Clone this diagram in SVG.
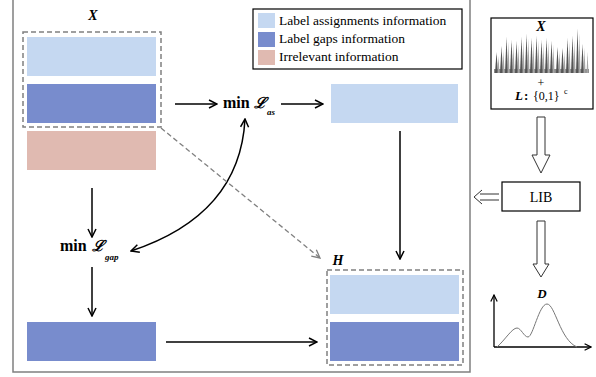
<svg xmlns="http://www.w3.org/2000/svg" width="596" height="377" viewBox="0 0 596 377">
<style>
.lb{fill:#C5D8F1}
.db{fill:#788CCD}
.pk{fill:#E0BAB1}
.dash{fill:none;stroke:#808080;stroke-width:1.5;stroke-dasharray:5,3}
.ln{fill:none;stroke:#000;stroke-width:1.5}
.t{font-family:"Liberation Serif",serif;fill:#000}
.bi{font-family:"Liberation Serif",serif;font-weight:bold;font-style:italic;fill:#000}
.hol{fill:#fff;stroke:#333;stroke-width:1}
</style>
<defs>
<marker id="ah" viewBox="0 0 10 10" refX="9" refY="5" markerWidth="10" markerHeight="10" markerUnits="userSpaceOnUse" orient="auto-start-reverse">
<path d="M1,1 L9,5 L1,9" fill="none" stroke="#000" stroke-width="1.5"/>
</marker>
<marker id="ahg" viewBox="0 0 10 10" refX="9" refY="5" markerWidth="10" markerHeight="10" markerUnits="userSpaceOnUse" orient="auto">
<path d="M1,1 L9,5 L1,9" fill="none" stroke="#808080" stroke-width="1.3"/>
</marker>
<marker id="axh" viewBox="0 0 10 10" refX="9" refY="5" markerWidth="8" markerHeight="8" markerUnits="userSpaceOnUse" orient="auto">
<path d="M1,1 L9,5 L1,9" fill="none" stroke="#000" stroke-width="1.5"/>
</marker>
</defs>
<rect width="596" height="377" fill="#fff"/>
<!-- main frame -->
<path d="M13,-2 L13,372 L470,372 L470,-2" fill="none" stroke="#808080" stroke-width="1.5"/>

<g id="nodeX">
<text class="bi" x="93" y="20" font-size="14" text-anchor="middle">X</text>
<rect class="dash" x="23" y="32" width="138" height="95"/>
<rect class="lb" x="27" y="37" width="129" height="39"/>
<rect class="db" x="27" y="84" width="129" height="39"/>
<rect class="pk" x="27" y="131" width="129" height="39"/>
</g>

<g id="legend">
<rect x="253" y="9" width="209" height="60" fill="#fff" stroke="#000" stroke-width="1.2"/>
<rect class="lb" x="258" y="13" width="17" height="15"/>
<rect class="db" x="258" y="32" width="17" height="15"/>
<rect class="pk" x="258" y="50" width="17" height="15"/>
<text class="t" x="279" y="25" font-size="13.5">Label assignments information</text>
<text class="t" x="279" y="43" font-size="13.5">Label gaps information</text>
<text class="t" x="279" y="61" font-size="13.5">Irrelevant information</text>
</g>

<g id="lossAs">
<text class="t" x="223" y="108" font-size="16" font-weight="bold">min</text>
<text x="254" y="108" font-size="15" font-family="'DejaVu Serif',serif" font-style="italic" font-weight="bold">ℒ</text>
<text class="bi" x="267" y="115" font-size="9">as</text>
</g>

<g id="boxAs">
<rect class="lb" x="331" y="84" width="127" height="39"/>
</g>

<g id="lossGap">
<text class="t" x="60" y="251" font-size="16" font-weight="bold">min</text>
<text x="92" y="251" font-size="15" font-family="'DejaVu Serif',serif" font-style="italic" font-weight="bold">ℒ</text>
<text class="bi" x="105" y="260" font-size="9">gap</text>
</g>

<g id="boxGap">
<rect class="db" x="27" y="322" width="129" height="39"/>
</g>

<g id="nodeH">
<text class="bi" x="338" y="265" font-size="14" text-anchor="middle">H</text>
<rect class="dash" x="327" y="270" width="136" height="95"/>
<rect class="lb" x="330" y="275" width="129" height="39"/>
<rect class="db" x="330" y="322" width="129" height="39"/>
</g>

<g id="connectors">
<line class="ln" x1="175" y1="104" x2="217" y2="104" marker-end="url(#ah)"/>
<line class="ln" x1="281" y1="104" x2="323" y2="104" marker-end="url(#ah)"/>
<line class="ln" x1="400" y1="131" x2="400" y2="259" marker-end="url(#ah)"/>
<line class="ln" x1="92" y1="188" x2="92" y2="237" marker-end="url(#ah)"/>
<line class="ln" x1="92" y1="267" x2="92" y2="316" marker-end="url(#ah)"/>
<line class="ln" x1="166" y1="342" x2="317" y2="342" marker-end="url(#ah)"/>
<path class="ln" d="M245,119 Q240,215 131,251" marker-start="url(#ah)" marker-end="url(#ah)"/>
<line x1="161" y1="128" x2="320" y2="258" stroke="#808080" stroke-width="1.3" stroke-dasharray="5,3" marker-end="url(#ahg)"/>
</g>

<g id="inputPanel">
<rect x="491" y="18" width="102" height="91" fill="#fff" stroke="#000" stroke-width="1.2"/>
<text class="bi" x="541" y="31" font-size="14" text-anchor="middle">X</text>
<rect x="494" y="69" width="95" height="4" fill="#8a8a8a"/>
<g fill="#555">
<polygon points="495,73 496.5,52 498,73"/>
<polygon points="500,73 501.5,46 503,73"/>
<polygon points="505,73 506.5,37 508,73"/>
<polygon points="510,73 511.5,40 513,73"/>
<polygon points="515,73 516.5,41 518,73"/>
<polygon points="520,73 521.5,37 523,73"/>
<polygon points="525,73 526.5,34 528,73"/>
<polygon points="530,73 531.5,38 533,73"/>
<polygon points="535,73 536.5,36 538,73"/>
<polygon points="540,73 541.5,40 543,73"/>
<polygon points="545,73 546.5,38 548,73"/>
<polygon points="550,73 551.5,41 553,73"/>
<polygon points="556,73 557.5,47 559,73"/>
<polygon points="561,73 562.5,48 564,73"/>
<polygon points="566,73 567.5,38 569,73"/>
<polygon points="571,73 572.5,36 574,73"/>
<polygon points="576,73 577.5,29 579,73"/>
<polygon points="581,73 582.5,44 584,73"/>
</g>
<g fill="#a5a5a5">
<polygon points="497.5,73 498.5,56 499.5,73"/>
<polygon points="502.5,73 503.5,50 504.5,73"/>
<polygon points="507.5,73 508.5,42 509.5,73"/>
<polygon points="512.5,73 513.5,44 514.5,73"/>
<polygon points="517.5,73 518.5,45 519.5,73"/>
<polygon points="522.5,73 523.5,41 524.5,73"/>
<polygon points="527.5,73 528.5,38 529.5,73"/>
<polygon points="532.5,73 533.5,42 534.5,73"/>
<polygon points="537.5,73 538.5,40 539.5,73"/>
<polygon points="542.5,73 543.5,44 544.5,73"/>
<polygon points="547.5,73 548.5,42 549.5,73"/>
<polygon points="552.5,73 553.5,45 554.5,73"/>
<polygon points="558.5,73 559.5,51 560.5,73"/>
<polygon points="563.5,73 564.5,52 565.5,73"/>
<polygon points="568.5,73 569.5,42 570.5,73"/>
<polygon points="573.5,73 574.5,40 575.5,73"/>
<polygon points="578.5,73 579.5,33 580.5,73"/>
<polygon points="583.5,73 584.5,48 585.5,73"/>
<polygon points="586.5,73 587.5,52 588.5,73"/>
</g>
<text class="t" x="541" y="87" font-size="12" text-anchor="middle">+</text>
<text class="bi" x="515" y="100" font-size="13">L</text>
<text class="t" x="524" y="100" font-size="13" font-weight="bold">:</text>
<text class="t" x="533" y="100" font-size="12">{0,1}</text>
<text class="t" x="564" y="94" font-size="8">c</text>
</g>

<g id="arrowDown1">
<path class="hol" d="M537,117 L545,117 L545,155 L550,155 L541,173 L532,155 L537,155 Z"/>
</g>

<g id="nodeLIB">
<rect x="502" y="182" width="78" height="29" fill="#fff" stroke="#000" stroke-width="1.2"/>
<text class="t" x="541" y="202" font-size="14" text-anchor="middle">LIB</text>
</g>

<g id="arrowLeft">
<path d="M499,194 L480,194 M499,200 L480,200 M482,190 L474,197 L482,204" fill="none" stroke="#333" stroke-width="1"/>
</g>

<g id="arrowDown2">
<path class="hol" d="M537,221 L545,221 L545,264 L549,264 L541,277 L533,264 L537,264 Z"/>
</g>

<g id="nodeD">
<text class="bi" x="542" y="298" font-size="13" text-anchor="middle">D</text>
<line x1="494" y1="347" x2="494" y2="295" stroke="#000" stroke-width="1.3" marker-end="url(#axh)"/>
<line x1="494" y1="347" x2="591" y2="347" stroke="#000" stroke-width="1.3" marker-end="url(#axh)"/>
<path d="M497,347 C505,340 512,328 517,328 C521,328 524,337 528,337 C533,337 539,304 547,304 C555,304 560,340 577,347" fill="none" stroke="#777" stroke-width="1"/>
</g>
</svg>
